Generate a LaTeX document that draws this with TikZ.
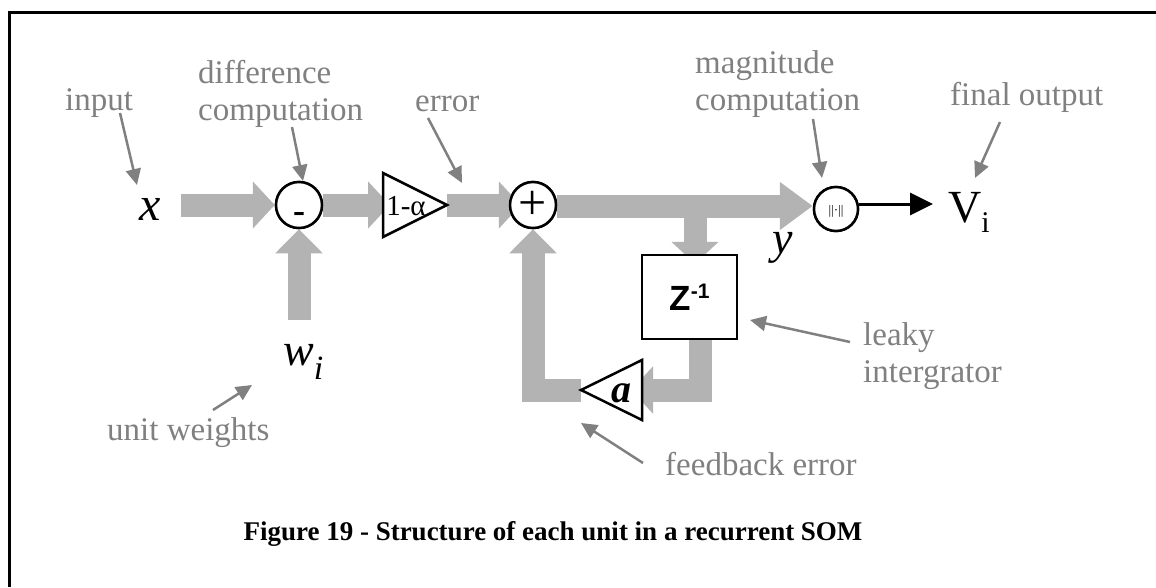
\documentclass[tikz,border=0pt]{standalone}
\usepackage{fontspec}
\usepackage{graphicx}
\setmainfont{Liberation Serif}
\newfontfamily\zsans{Liberation Sans}
\usetikzlibrary{arrows.meta}
\definecolor{blkgray}{RGB}{179,179,179}
\definecolor{lblgray}{RGB}{128,128,128}
\newcommand\fsz[1]{\fontsize{#1}{#1}\selectfont}
\begin{document}
\begin{tikzpicture}[x=1pt,y=-1pt,
  lbltext/.style={text=lblgray, font=\fsz{33}, inner sep=0pt, anchor=base west},
  pointer/.style={draw=lblgray, line width=2.5pt, -{Triangle[length=16pt,width=15pt]}},
  blockarrow/.style={draw=blkgray, line width=23pt, line join=miter, -{Triangle[length=22pt,width=46pt]}},
  ring/.style={circle, draw, line width=2.5pt, fill=white, minimum size=46pt, inner sep=0pt},
  gainline/.style={draw, line width=2.5pt, fill=white, line join=miter},
  ]
\useasboundingbox (0,0) rectangle (1156,587);
% frame
\draw[line width=3pt, line join=miter] (9.3,587) -- (9.3,12.5) -- (1156,12.5);

% positions of main blocks
\coordinate (g1in) at (383,205);
\coordinate (g1out) at (447,205);
\coordinate (g2in) at (642,390);
\coordinate (g2out) at (581,390);
\coordinate (split) at (695,206);
\coordinate (wtop) at (299,320);
\coordinate (vtip) at (933,204);

% symbols
\node[inner sep=0pt, anchor=base, font=\fsz{48}\itshape] (xin) at (150,220) {x};
\node[inner sep=0pt, anchor=base west, font=\fsz{46}\itshape] (wi) at (283,365) {w\raisebox{-14pt}{\fsz{34}i}};
\node[inner sep=0pt, anchor=base, font=\fsz{46}\itshape] (yout) at (783,253) {y};
\node[inner sep=0pt, anchor=base west, font=\fsz{46}] (vi) at (948,222) {V\raisebox{-10pt}{\fsz{30}i}};

\path (299,205) node[ring] (minus) {}
      (533,205) node[ring] (plus) {}
      (836,209) node[ring, minimum size=44pt] (mag) {};
\node[draw, line width=2.5pt, fill=white, minimum width=95pt, minimum height=84pt,
      inner sep=0pt] (zbox) at (689.5,297) {};

% block arrows
\draw[blockarrow] ([xshift=20pt]xin.east |- minus.west) -- (minus.west);
\draw[blockarrow, -{Triangle[length=24pt,width=46pt]}] (wtop) -- (wtop |- minus.south);
\draw[blockarrow] (minus.east) -- ([xshift=7pt]g1in);
\draw[blockarrow] (g1out) -- ([xshift=12pt]plus.west);
\draw[blockarrow, -{Triangle[length=33pt,width=46pt]}] ([yshift=-1pt]plus.east) -- ([yshift=-1pt]plus.east -| mag.west);
\draw[blockarrow] (split) -- ([yshift=-10pt]split |- zbox.north);
\draw[blockarrow] ([xshift=10.5pt]zbox.south) |- ([xshift=-11pt]g2in);
\draw[blockarrow, -{Triangle[length=24pt,width=46pt]}] (g2out) -| (plus.south);

% shapes on top of the arrow tips
\path (299,205) node[ring] (minusc) {}
      (533,205) node[ring] (plusc) {}
      (836,209) node[ring, minimum size=44pt] (magc) {};
\node[inner sep=0pt, font=\bfseries\fsz{36}, text height=34pt, text depth=0pt] (minussign) at (minus.center) {-};
\node[inner sep=0pt, font=\fsz{50}] (plussign) at (plus.center) {+};
\node[inner sep=0pt, font=\fsz{13}] (normsign) at ([yshift=-2pt]mag.center) {||·||};
\node[draw, line width=2.5pt, fill=white, minimum width=95pt, minimum height=84pt,
      inner sep=0pt, font=\zsans\bfseries\fsz{35}] (zboxc) at (689.5,297) {Z\raisebox{12pt}{\fsz{21}-1}};
\draw[gainline] (383,173) -- (g1out) -- (383,237) -- cycle;
\node[inner sep=0pt, font=\fsz{29}] (gain1) at (406,206) {1-α};
\draw[gainline] (642,360) -- (g2out) -- (642,420) -- cycle;
\node[inner sep=0pt, font=\bfseries\itshape\fsz{40}] (gain2) at (621,393) {a};

% output arrow
\draw[line width=3pt, -{Triangle[length=23pt,width=22pt]}] ([yshift=5pt]mag.east) -- (vtip);

% gray labels
\node[lbltext] (inp) at (65,110) {input};
\node[lbltext] (dif1) at (198,83) {difference};
\node[lbltext] (dif2) at (198,120) {computation};
\node[lbltext] (err) at (415,111) {error};
\node[lbltext] (mag1) at (695,73) {magnitude};
\node[lbltext] (mag2) at (695,110) {computation};
\node[lbltext] (fin) at (950,105) {final output};
\node[lbltext] (leak1) at (863,345) {leaky};
\node[lbltext] (leak2) at (863,382) {intergrator};
\node[lbltext] (fb) at (665,475) {feedback error};
\node[lbltext] (uw) at (107,440) {unit weights};

% pointers
\coordinate (pinA) at (120,113);  \coordinate (pinB) at (137,185);
\coordinate (pdfA) at (292,127);  \coordinate (pdfB) at (303,181);
\coordinate (perA) at (428,118);  \coordinate (perB) at (462,183);
\coordinate (pmgA) at (813,119);  \coordinate (pmgB) at (822,178);
\coordinate (pfiA) at (1000,122); \coordinate (pfiB) at (975,178);
\coordinate (plkA) at (850,342);  \coordinate (plkB) at (750,320);
\coordinate (pfbA) at (643,463);  \coordinate (pfbB) at (581,423);
\coordinate (puwA) at (213,410);  \coordinate (puwB) at (252,385);
\draw[pointer] (pinA) -- (pinB);
\draw[pointer] (pdfA) -- (pdfB);
\draw[pointer] (perA) -- (perB);
\draw[pointer] (pmgA) -- (pmgB);
\draw[pointer] (pfiA) -- (pfiB);
\draw[pointer] (plkA) -- (plkB);
\draw[pointer] (pfbA) -- (pfbB);
\draw[pointer] (puwA) -- (puwB);

% caption
\node[inner sep=0pt, anchor=base, font=\bfseries\fsz{27}] (cap) at (553,540) {Figure 19 - Structure of each unit in a recurrent SOM};
\end{tikzpicture}
\end{document}
